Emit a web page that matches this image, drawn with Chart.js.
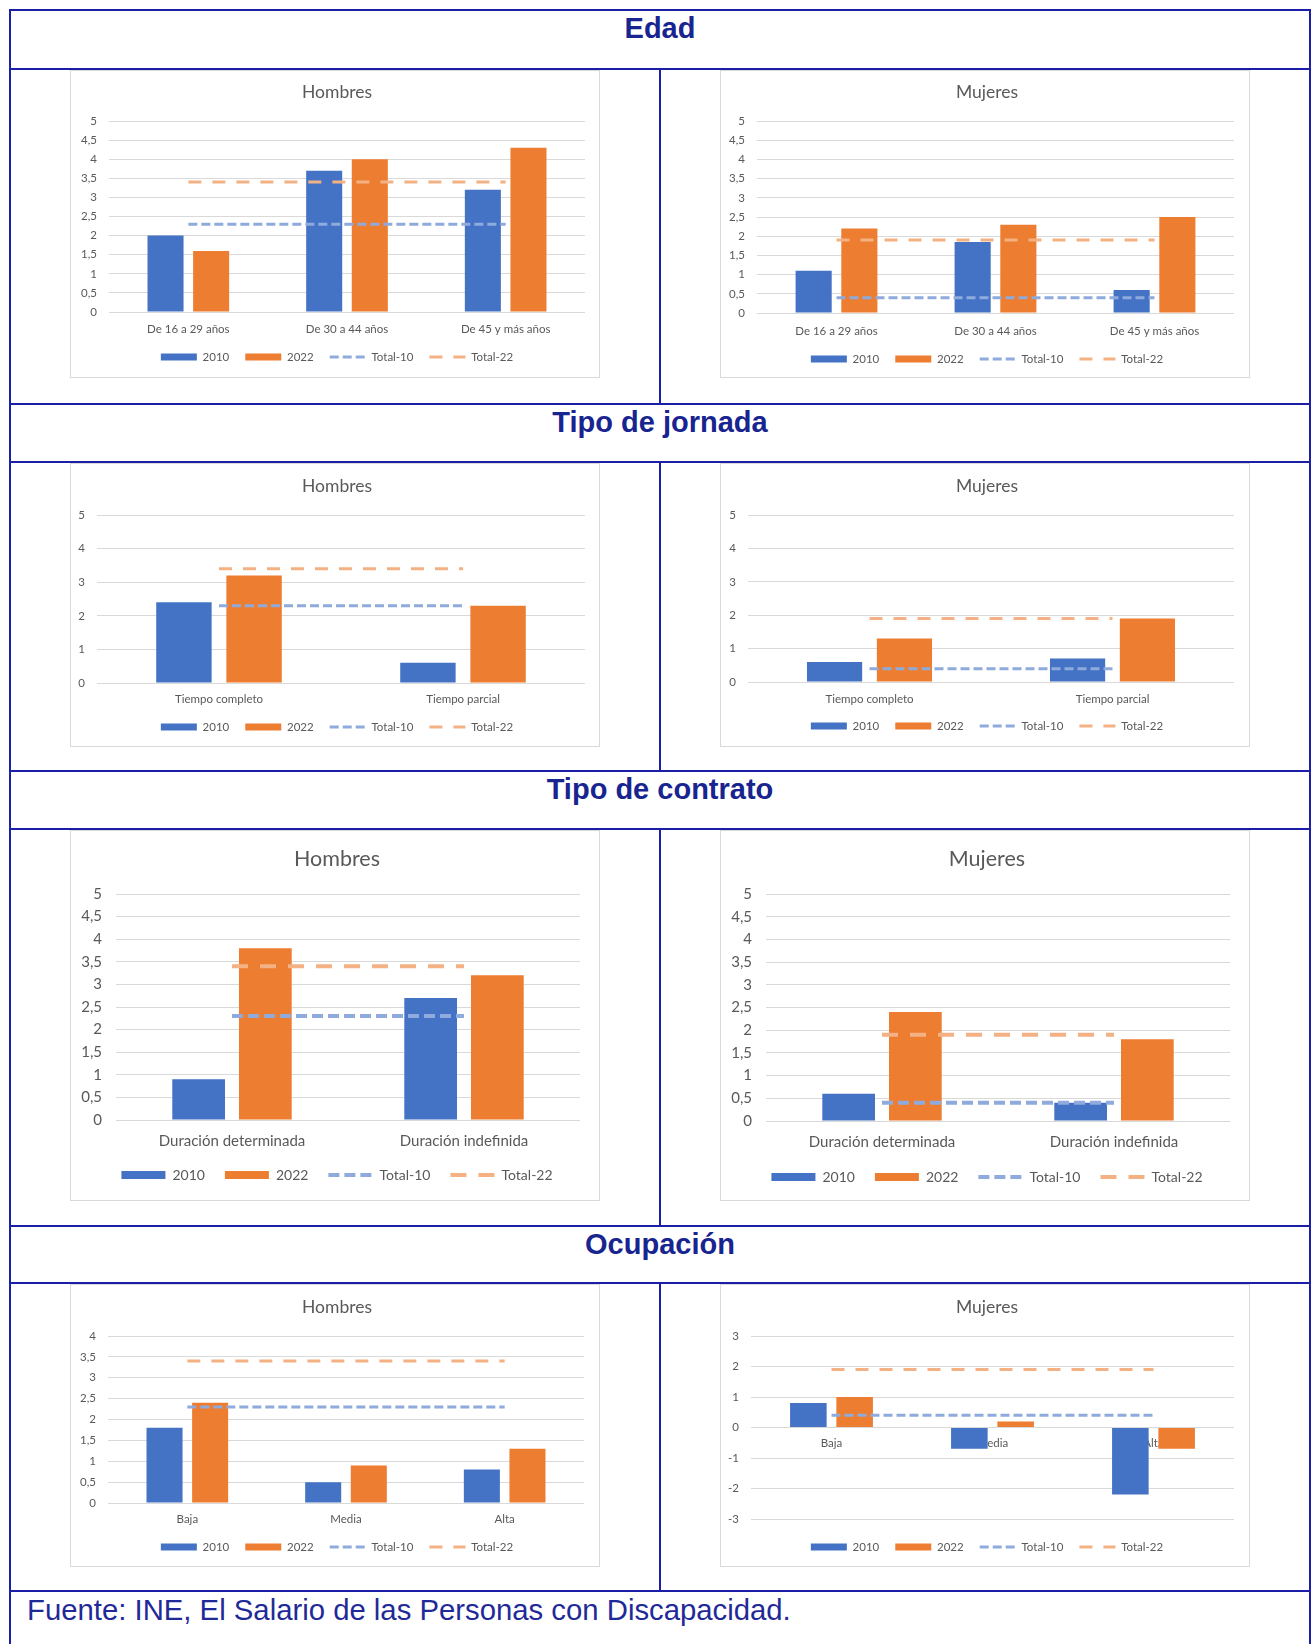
<!DOCTYPE html>
<html lang="es">
<head>
<meta charset="utf-8">
<title>Brecha salarial por sexo</title>
<script src="https://cdn.jsdelivr.net/npm/chart.js@4.4.0/dist/chart.umd.min.js"></script>
<style>
  html, body { margin: 0; padding: 0; background: #fff; }
  #page { position: relative; width: 1311px; height: 1644px; overflow: hidden; background: #fff; }
  .hline, .vline { position: absolute; background: #1b1ea6; z-index: 5; }
  .box { position: absolute; z-index: 1; }
  .box canvas { display: block; }
  .frame { position: absolute; left: 0; top: 0; right: 0; bottom: 0; border: 1px solid #d9d9d9; pointer-events: none; }
  .head { position: absolute; left: 10px; width: 1300px; text-align: center;
          font: bold 29px/34px "Liberation Sans", Arial, sans-serif; color: #18248f; }
  .foot { position: absolute; left: 27px; top: 1594px; white-space: nowrap;
          font: 29.3px/32px "Liberation Sans", Arial, sans-serif; color: #1f2a98; }
</style>
</head>
<body>
<div id="page">
  <div class="head" style="top:11px">Edad</div>
  <div class="head" style="top:405px">Tipo de jornada</div>
  <div class="head" style="top:772px">Tipo de contrato</div>
  <div class="head" style="top:1227px">Ocupación</div>
  <div class="foot">Fuente: INE, El Salario de las Personas con Discapacidad.</div>
</div>
<script>
// Datos (puntos porcentuales)
const edadLabels = ['De 16 a 29 años', 'De 30 a 44 años', 'De 45 y más años'];
const edadHombres2010 = [2.0, 3.7, 3.2];
const edadHombres2022 = [1.6, 4.0, 4.3];
const edadHombresTotal10 = [2.3, 2.3, 2.3];
const edadHombresTotal22 = [3.4, 3.4, 3.4];
const edadMujeres2010 = [1.1, 1.85, 0.6];
const edadMujeres2022 = [2.2, 2.3, 2.5];
const edadMujeresTotal10 = [0.4, 0.4, 0.4];
const edadMujeresTotal22 = [1.9, 1.9, 1.9];

const jornadaLabels = ['Tiempo completo', 'Tiempo parcial'];
const jornadaHombres2010 = [2.4, 0.6];
const jornadaHombres2022 = [3.2, 2.3];
const jornadaHombresTotal10 = [2.3, 2.3];
const jornadaHombresTotal22 = [3.4, 3.4];
const jornadaMujeres2010 = [0.6, 0.7];
const jornadaMujeres2022 = [1.3, 1.9];
const jornadaMujeresTotal10 = [0.4, 0.4];
const jornadaMujeresTotal22 = [1.9, 1.9];

const contratoLabels = ['Duración determinada', 'Duración indefinida'];
const contratoHombres2010 = [0.9, 2.7];
const contratoHombres2022 = [3.8, 3.2];
const contratoHombresTotal10 = [2.3, 2.3];
const contratoHombresTotal22 = [3.4, 3.4];
const contratoMujeres2010 = [0.6, 0.4];
const contratoMujeres2022 = [2.4, 1.8];
const contratoMujeresTotal10 = [0.4, 0.4];
const contratoMujeresTotal22 = [1.9, 1.9];

const ocupacionLabels = ['Baja', 'Media', 'Alta'];
const ocupacionHombres2010 = [1.8, 0.5, 0.8];
const ocupacionHombres2022 = [2.4, 0.9, 1.3];
const ocupacionHombresTotal10 = [2.3, 2.3, 2.3];
const ocupacionHombresTotal22 = [3.4, 3.4, 3.4];
const ocupacionMujeres2010 = [0.8, -0.7, -2.2];
const ocupacionMujeres2022 = [1.0, 0.2, -0.7];
const ocupacionMujeresTotal10 = [0.4, 0.4, 0.4];
const ocupacionMujeresTotal22 = [1.9, 1.9, 1.9];

Chart.defaults.font.family = 'Lato, "Open Sans", sans-serif';
Chart.defaults.color = '#595959';

const page = document.getElementById('page');

// lineas de la tabla
function linea(cls, x, y, w, h) {
  const d = document.createElement('div');
  d.className = cls;
  d.style.cssText = `left:${x}px;top:${y}px;width:${w}px;height:${h}px`;
  page.appendChild(d);
}
[10, 69, 404, 462, 771, 829, 1226, 1283, 1591].forEach(y => linea('hline', 9, y - 1, 1302, 2));
linea('vline', 9, 9, 2, 1640);
linea('vline', 1309, 9, 2, 1640);
[[69, 404], [462, 771], [829, 1226], [1283, 1591]].forEach(([a, b]) => linea('vline', 659, a, 2, b - a));

const PEQ = { title: 17.5, tick: 11.5, legend: 11.5, boxH: 7, swatch: 36, legendPad: 16, yPad: 12, lineW: 3, dash10: [9, 4], dash22: [13, 11] };
const GRANDE = { title: 21.5, tick: 15, legend: 14, boxH: 8, swatch: 44, legendPad: 20, yPad: 14, lineW: 4, dash10: [11, 5], dash22: [16, 12] };

function coma(v) { return String(v).replace('.', ','); }

// centra titulo y leyenda sobre el recuadro y da aire a las etiquetas del eje x
const ajuste = {
  id: 'ajuste',
  afterLayout(chart) {
    const cx = chart.options.plugins.ajuste.cx;
    const t = chart.titleBlock, lg = chart.legend;
    const d = cx - (t.left + t.right) / 2;
    [t, lg].forEach(b => { b.left += d; b.right += d; });
    chart.scales.x.bottom += 8;
  }
};

function grafico(caja, g, st, titulo, labels, s2010, s2022, t10, t22, eje, ejeCero) {
  const cont = document.createElement('div');
  cont.className = 'box';
  cont.style.cssText = `left:${caja.x}px;top:${caja.y}px;width:${caja.w}px;height:${caja.h}px`;
  const canvas = document.createElement('canvas');
  canvas.width = caja.w;
  canvas.height = caja.h;
  cont.appendChild(canvas);
  const marco = document.createElement('div');
  marco.className = 'frame';
  cont.appendChild(marco);
  page.appendChild(cont);

  const pr = caja.w - g.r;
  const pb = caja.h - g.legendY - st.legend / 2 - 10;
  const legendTop = caja.h - pb - st.legend - st.legendPad - 10;
  const xAxisH = legendTop - g.b;
  const xTickPad = g.xLabelY - g.b - 0.6 * st.tick;

  const scales = {
    x: {
      grid: { display: false, drawTicks: false },
      border: { display: false },
      ticks: { display: !ejeCero, padding: xTickPad, color: '#595959', font: { size: st.tick } },
      afterFit: s => { s.height = xAxisH; }
    },
    y: {
      min: eje.min, max: eje.max,
      grid: { color: '#d9d9d9', drawTicks: false },
      border: { display: false },
      ticks: { stepSize: eje.step, padding: st.yPad, color: '#595959', font: { size: st.tick }, callback: coma },
      afterFit: s => { s.width = g.l; }
    }
  };
  if (ejeCero) {
    scales.xz = {
      type: 'category', axis: 'x', position: { y: 0 }, offset: true,
      grid: { display: false, drawTicks: false }, border: { display: false },
      ticks: { padding: 9, color: '#595959', font: { size: st.tick } }
    };
  }

  new Chart(canvas.getContext('2d'), {
    type: 'bar',
    data: {
      labels: labels,
      datasets: [
        { label: '2010', data: s2010, backgroundColor: '#4472c4', order: 2, categoryPercentage: 0.575, barPercentage: 0.79 },
        { label: '2022', data: s2022, backgroundColor: '#ed7d31', order: 2, categoryPercentage: 0.575, barPercentage: 0.79 },
        { type: 'line', label: 'Total-10', data: t10, borderColor: '#8faadc', backgroundColor: '#8faadc',
          borderWidth: st.lineW, borderDash: st.dash10, pointRadius: 0, fill: false, tension: 0, order: 1 },
        { type: 'line', label: 'Total-22', data: t22, borderColor: '#f4b183', backgroundColor: '#f4b183',
          borderWidth: st.lineW, borderDash: st.dash22, pointRadius: 0, fill: false, tension: 0, order: 1 }
      ]
    },
    plugins: [ajuste],
    options: {
      responsive: false,
      maintainAspectRatio: false,
      animation: false,
      devicePixelRatio: 1,
      layout: { padding: { left: 0, right: pr, top: 0, bottom: pb } },
      plugins: {
        ajuste: { cx: 267 },
        title: {
          display: true, text: titulo, color: '#595959',
          font: { size: st.title, weight: 'normal' },
          padding: { top: g.titleY - 0.6 * st.title, bottom: g.t - g.titleY - 0.6 * st.title }
        },
        legend: {
          position: 'bottom',
          labels: {
            usePointStyle: true, pointStyleWidth: st.swatch, boxHeight: st.boxH,
            padding: st.legendPad, color: '#595959', font: { size: st.legend },
            generateLabels: chart => chart.data.datasets.map((ds, i) => ({
              text: ds.label,
              fillStyle: ds.backgroundColor,
              strokeStyle: ds.borderColor || ds.backgroundColor,
              lineWidth: ds.type === 'line' ? ds.borderWidth : 0,
              lineDash: ds.borderDash || [],
              lineCap: 'butt',
              pointStyle: ds.type === 'line' ? 'line' : 'rect',
              fontColor: '#595959',
              hidden: false,
              datasetIndex: i
            }))
          }
        },
        tooltip: { enabled: false }
      },
      scales: scales
    }
  });
}

const ejeCinco = { min: 0, max: 5, step: 0.5 };
const ejeCincoEntero = { min: 0, max: 5, step: 1 };

// Edad
grafico({ x: 70, y: 70, w: 530, h: 308 }, { l: 39, r: 515, t: 51, b: 242, titleY: 22, xLabelY: 259, legendY: 287 }, PEQ,
  'Hombres', edadLabels, edadHombres2010, edadHombres2022, edadHombresTotal10, edadHombresTotal22, ejeCinco);
grafico({ x: 720, y: 70, w: 530, h: 308 }, { l: 37, r: 514, t: 51, b: 243, titleY: 22, xLabelY: 261, legendY: 289 }, PEQ,
  'Mujeres', edadLabels, edadMujeres2010, edadMujeres2022, edadMujeresTotal10, edadMujeresTotal22, ejeCinco);

// Tipo de jornada
grafico({ x: 70, y: 463, w: 530, h: 284 }, { l: 27, r: 515, t: 52, b: 220, titleY: 23, xLabelY: 236, legendY: 264 }, PEQ,
  'Hombres', jornadaLabels, jornadaHombres2010, jornadaHombres2022, jornadaHombresTotal10, jornadaHombresTotal22, ejeCincoEntero);
grafico({ x: 720, y: 463, w: 530, h: 284 }, { l: 28, r: 514, t: 52, b: 219, titleY: 23, xLabelY: 236, legendY: 263 }, PEQ,
  'Mujeres', jornadaLabels, jornadaMujeres2010, jornadaMujeres2022, jornadaMujeresTotal10, jornadaMujeresTotal22, ejeCincoEntero);

// Tipo de contrato
grafico({ x: 70, y: 830, w: 530, h: 371 }, { l: 46, r: 510, t: 64, b: 290, titleY: 29, xLabelY: 311, legendY: 345 }, GRANDE,
  'Hombres', contratoLabels, contratoHombres2010, contratoHombres2022, contratoHombresTotal10, contratoHombresTotal22, ejeCinco);
grafico({ x: 720, y: 830, w: 530, h: 371 }, { l: 46, r: 510, t: 64, b: 291, titleY: 29, xLabelY: 312, legendY: 347 }, GRANDE,
  'Mujeres', contratoLabels, contratoMujeres2010, contratoMujeres2022, contratoMujeresTotal10, contratoMujeresTotal22, ejeCinco);

// Ocupacion
grafico({ x: 70, y: 1284, w: 530, h: 283 }, { l: 38, r: 514, t: 52, b: 219, titleY: 23, xLabelY: 235, legendY: 263 }, PEQ,
  'Hombres', ocupacionLabels, ocupacionHombres2010, ocupacionHombres2022, ocupacionHombresTotal10, ocupacionHombresTotal22, { min: 0, max: 4, step: 0.5 });
grafico({ x: 720, y: 1284, w: 530, h: 283 }, { l: 31, r: 514, t: 52, b: 235, titleY: 23, xLabelY: 252, legendY: 263 }, PEQ,
  'Mujeres', ocupacionLabels, ocupacionMujeres2010, ocupacionMujeres2022, ocupacionMujeresTotal10, ocupacionMujeresTotal22, { min: -3, max: 3, step: 1 }, true);
</script>
</body>
</html>
